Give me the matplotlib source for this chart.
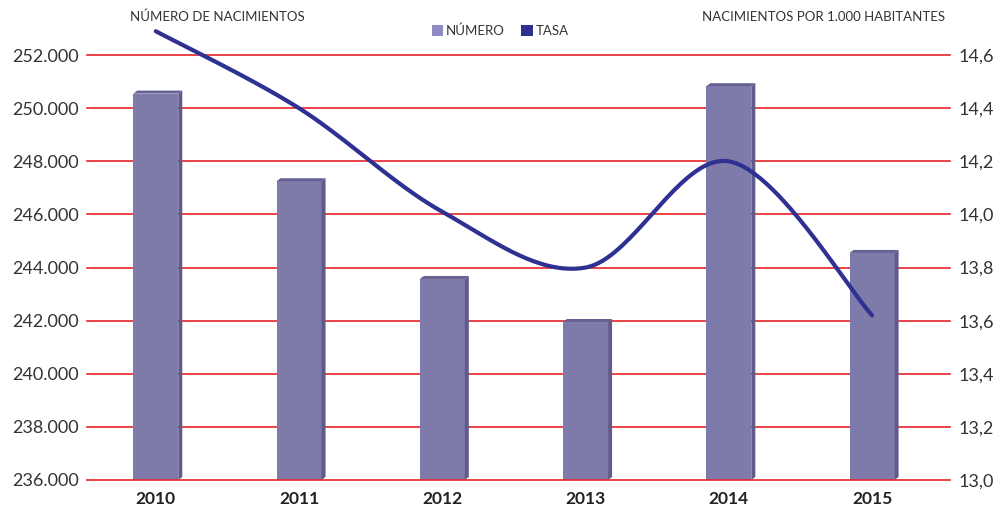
import numpy as np
import matplotlib
matplotlib.use("Agg")
import matplotlib.pyplot as plt
from matplotlib.patches import Polygon, Rectangle, Patch

years = ["2010", "2011", "2012", "2013", "2014", "2015"]
numero = [250550, 247250, 243570, 241950, 250830, 244550]
tasa = [14.69, 14.40, 14.01, 13.80, 14.20, 13.62]
left_ticks = [236000, 238000, 240000, 242000, 244000, 246000, 248000, 250000, 252000]
right_ticks = [13.0, 13.2, 13.4, 13.6, 13.8, 14.0, 14.2, 14.4, 14.6]

FRONT = "#7e7bab"
SIDE = "#5f5b8a"
TOP = "#656192"
LINE = "#2e3192"
GRID = "#e8242b"
TXT = "#333333"

plt.rcParams['font.family'] = ['Lato', 'DejaVu Sans']

fig = plt.figure(figsize=(10.06, 5.15), dpi=100)
ax = fig.add_axes([0.0865, 0.068, 0.858, 0.825])
ax2 = ax.twinx()

ymin, ymax = 236000, 252000
ax.set_ylim(ymin, ymax)
ax.set_xlim(-0.48, 5.545)
ax2.set_ylim(13.0, 14.6)

for t in left_ticks:
    ax.axhline(t, color=GRID, lw=1.2, zorder=1 if t != ymin else 3, clip_on=False)

x = np.arange(len(years))
w = 0.314
dx = 0.028
dy = 3 * (ymax - ymin) / 425.0
for xi, v in zip(x, numero):
    x0 = xi - w / 2
    ax.add_patch(Rectangle((x0, ymin), w, v - ymin, facecolor=FRONT, edgecolor="none", zorder=2))
    ax.add_patch(Polygon([(x0 + w, ymin), (x0 + w + dx, ymin + dy), (x0 + w + dx, v + dy), (x0 + w, v)],
                         closed=True, facecolor=SIDE, edgecolor="none", zorder=2))
    ax.add_patch(Polygon([(x0, v), (x0 + dx, v + dy), (x0 + w + dx, v + dy), (x0 + w, v)],
                         closed=True, facecolor=TOP, edgecolor="none", zorder=2))

# smooth line (Catmull-Rom style, like Excel smoothing)
px = x.astype(float)
py = np.array(tasa, dtype=float)
cx, cy = [], []
n = len(px)
for i in range(n - 1):
    p0 = (px[max(i - 1, 0)], py[max(i - 1, 0)])
    p1 = (px[i], py[i])
    p2 = (px[i + 1], py[i + 1])
    p3 = (px[min(i + 2, n - 1)], py[min(i + 2, n - 1)])
    c1 = (p1[0] + (p2[0] - p0[0]) / 6, p1[1] + (p2[1] - p0[1]) / 6)
    c2 = (p2[0] - (p3[0] - p1[0]) / 6, p2[1] - (p3[1] - p1[1]) / 6)
    t = np.linspace(0, 1, 40)
    bx = (1 - t) ** 3 * p1[0] + 3 * (1 - t) ** 2 * t * c1[0] + 3 * (1 - t) * t ** 2 * c2[0] + t ** 3 * p2[0]
    by = (1 - t) ** 3 * p1[1] + 3 * (1 - t) ** 2 * t * c1[1] + 3 * (1 - t) * t ** 2 * c2[1] + t ** 3 * p2[1]
    cx.extend(bx)
    cy.extend(by)
ax2.plot(cx, cy, color=LINE, lw=3, solid_capstyle="round", clip_on=False, zorder=5)

ax.set_xticks(x)
ax.set_xticklabels(years, fontsize=12.5, fontweight="bold", color="#222222")
ax.set_yticks(left_ticks)
ax.set_yticklabels([f"{t:,}".replace(",", ".") for t in left_ticks], fontsize=13, color=TXT)
ax2.set_yticks(right_ticks)
ax2.set_yticklabels([f"{t:.1f}".replace(".", ",") for t in right_ticks], fontsize=13, color=TXT)

for a in (ax, ax2):
    for s in a.spines.values():
        s.set_visible(False)
    a.tick_params(length=0)
ax.tick_params(axis="y", pad=6)
ax.tick_params(axis="x", pad=8)
ax2.tick_params(axis="y", pad=6)

fig.text(130 / 1006, 1 - 17 / 515, "NÚMERO DE NACIMIENTOS", fontsize=9.5, color=TXT, va="center", ha="left")
fig.text(945 / 1006, 1 - 17 / 515, "NACIMIENTOS POR 1.000 HABITANTES", fontsize=9.5, color=TXT, va="center", ha="right")

handles = [Patch(facecolor="#8f8cc4", label="NÚMERO"), Patch(facecolor=LINE, label="TASA")]
fig.legend(handles=handles, loc="center", bbox_to_anchor=(500 / 1006, 1 - 31 / 515), ncol=2, frameon=False,
           fontsize=9.5, handlelength=0.9, handleheight=0.9, handletextpad=0.2, columnspacing=1.2,
           labelcolor=TXT)

fig.savefig("out.png", dpi=100)
